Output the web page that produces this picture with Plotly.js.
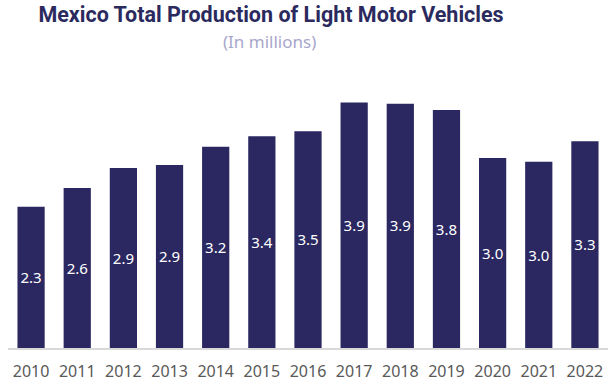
<!DOCTYPE html>
<html><head><meta charset="utf-8">
<script src="https://cdn.plot.ly/plotly-3.0.1.min.js"></script>
<style>html,body{margin:0;padding:0;background:#fff}#chart{width:616px;height:390px}</style>
</head><body><div id="chart"></div>
<script>
const years = ['2010','2011','2012','2013','2014','2015','2016','2017','2018','2019','2020','2021','2022'];
const production = [2.26, 2.56, 2.88, 2.93, 3.22, 3.39, 3.47, 3.93, 3.91, 3.81, 3.04, 2.98, 3.31];
const titleText = 'Mexico Total Production of Light Motor Vehicles';
const subtitleText = '(In millions)';

const trace = {
  type: 'bar', x: years, y: production,
  marker: {color: '#2b2861'},
  text: production.map(v => v.toFixed(1)),
  textposition: 'inside', insidetextanchor: 'middle',
  textangle: 0,
  textfont: {family: 'Noto Sans, sans-serif', size: 16, color: '#ffffff'},
  hoverinfo: 'none'
};
const layout = {
  width: 616, height: 390,
  margin: {l: 8, r: 8, t: 80, b: 42},
  paper_bgcolor: '#ffffff', plot_bgcolor: '#ffffff',
  bargap: 0.41,
  showlegend: false,
  title: {text: '<b>' + titleText + '</b>', x: 271/616, xanchor: 'center', xref: 'container', y: 1-14/390, yanchor: 'middle', yref: 'container',
    font: {family: 'Roboto, sans-serif', size: 21.5, color: '#2b2a5e'}},
  annotations: [{text: subtitleText, xref: 'paper', yref: 'paper', x: (269-8)/600, y: 1 + (80-42)/268, xanchor: 'center', yanchor: 'middle', showarrow: false,
    font: {family: 'Noto Sans, sans-serif', size: 17, color: '#a8a7cc'}}],
  xaxis: {type: 'category', tickmode: 'array', tickvals: years, ticktext: years,
    showline: true, linecolor: '#d9d9d9', linewidth: 2, ticks: 'outside', ticklen: 8, tickcolor: 'rgba(0,0,0,0)',
    tickfont: {family: 'Noto Sans, sans-serif', size: 16, color: '#595959'}, showgrid: false},
  yaxis: {range: [0, 268/62.5], visible: false, showgrid: false, zeroline: false}
};
Plotly.newPlot('chart', [trace], layout, {displayModeBar: false, staticPlot: true});
</script></body></html>
